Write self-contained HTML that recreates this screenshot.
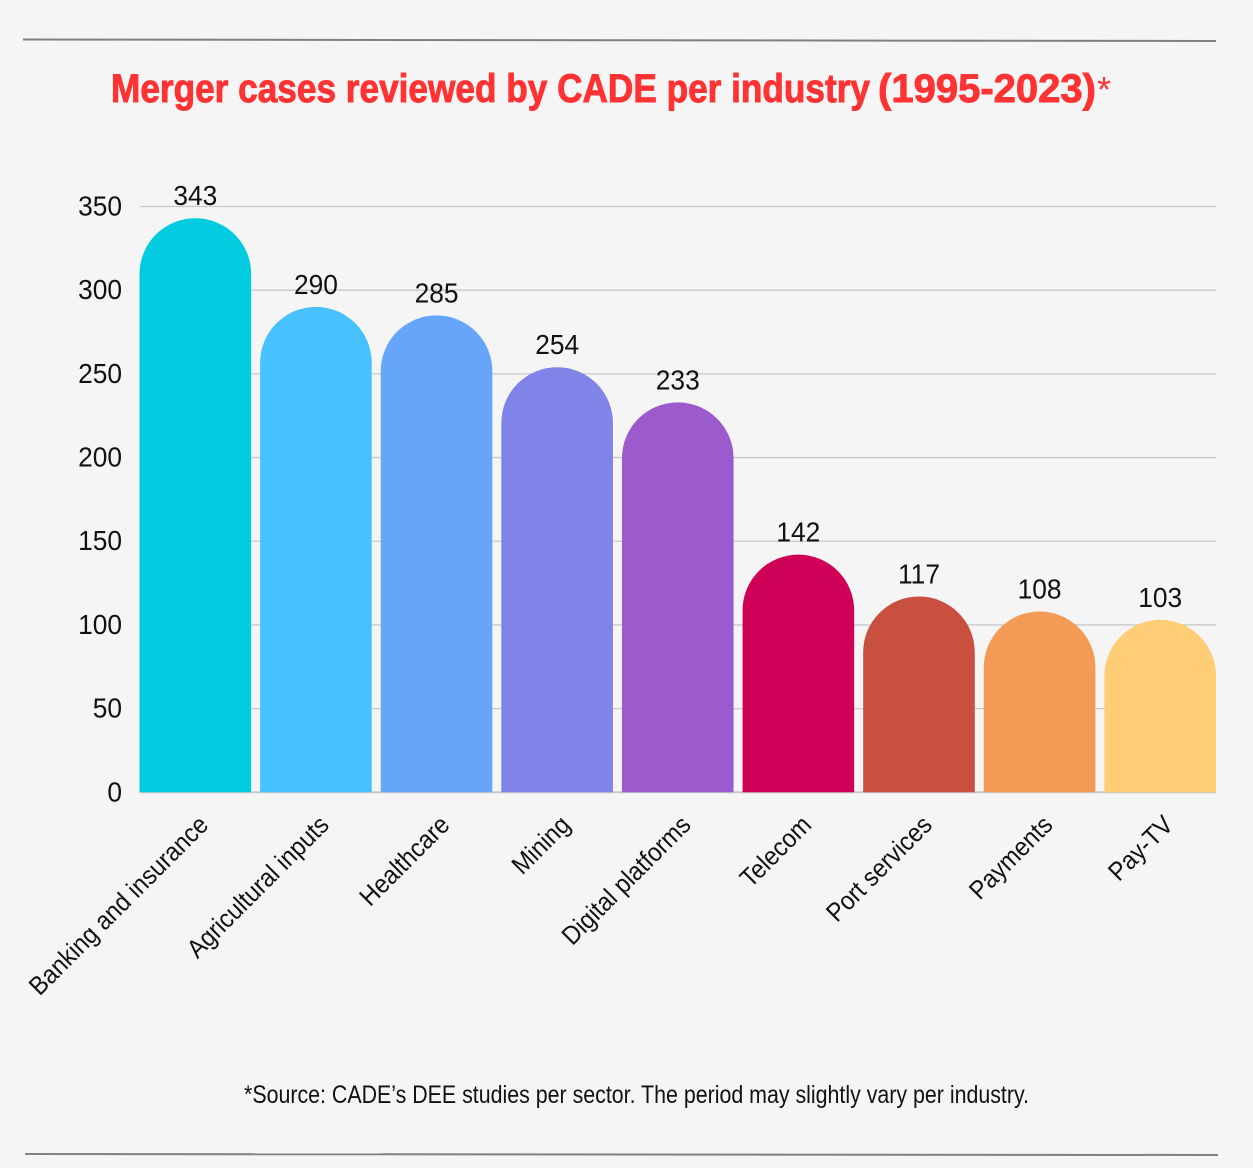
<!DOCTYPE html>
<html lang="en">
<head>
<meta charset="utf-8">
<title>Merger cases reviewed by CADE per industry (1995-2023)</title>
<style>
html,body{margin:0;padding:0;background:#f5f5f5;width:1253px;height:1168px;overflow:hidden}
svg{display:block}
text{font-family:"Liberation Sans",Arial,sans-serif;fill:#111}
.ttl{fill:#ff3333;stroke:#ff3333;stroke-width:0.9px}
</style>
</head>
<body>
<svg id="chart" width="1253" height="1168" viewBox="0 0 1253 1168" xmlns="http://www.w3.org/2000/svg">
  <rect x="0" y="0" width="1253" height="1168" fill="#f5f5f5"/>
  <line x1="23" y1="39.5" x2="1216" y2="41" stroke="#808080" stroke-width="2"/>
  <line x1="25" y1="1154" x2="1218" y2="1155" stroke="#808080" stroke-width="2"/>
  <text class="ttl" x="111" y="102" font-size="40" font-weight="700" textLength="759" lengthAdjust="spacingAndGlyphs">Merger cases reviewed by CADE per industry</text>
  <text class="ttl" x="878" y="102" font-size="40" font-weight="700" textLength="218" lengthAdjust="spacingAndGlyphs">(1995-2023)</text>
  <text x="1097" y="102" font-size="36" style="fill:#ff3333" textLength="14" lengthAdjust="spacingAndGlyphs">*</text>
  <g id="grid"></g>
  <g id="yticks"></g>
  <g id="bars"></g>
  <g id="values"></g>
  <g id="xlabels"></g>
  <text x="244" y="1103" font-size="25" textLength="785" lengthAdjust="spacingAndGlyphs">*Source: CADE’s DEE studies per sector. The period may slightly vary per industry.</text>
</svg>
<script>
const categories = ["Banking and insurance", "Agricultural inputs", "Healthcare", "Mining", "Digital platforms", "Telecom", "Port services", "Payments", "Pay-TV"];
const caseCounts = [343, 290, 285, 254, 233, 142, 117, 108, 103];
const barColors = ["#00cbdf", "#47c1ff", "#66a6fa", "#8083e8", "#9b5bcd", "#cf0058", "#c9503e", "#f29a56", "#ffcd75"];
const yTickValues = [0, 50, 100, 150, 200, 250, 300, 350];

const NS = "http://www.w3.org/2000/svg";
const plotLeft = 139.5, plotRight = 1216, plotBottom = 792.3, plotTop = 206.5, yMax = 350;
const slot = (plotRight - plotLeft + 9) / categories.length;
const barWidth = slot - 9;
function xScale(i) { return plotLeft + i * slot; }
function yScale(v) { return plotBottom - (v / yMax) * (plotBottom - plotTop); }
function make(tag, attrs, parent, txt) {
  const el = document.createElementNS(NS, tag);
  for (const k in attrs) el.setAttribute(k, attrs[k]);
  if (txt !== undefined) el.textContent = txt;
  parent.appendChild(el);
  return el;
}
const gridG = document.getElementById("grid");
const tickG = document.getElementById("yticks");
const barG = document.getElementById("bars");
const valG = document.getElementById("values");
const labG = document.getElementById("xlabels");

yTickValues.forEach(function (t) {
  const y = yScale(t);
  const line = make("line", {x1: plotLeft, x2: plotRight, y1: y, y2: y, stroke: "#c9c9c9", "stroke-width": t === 0 ? 2 : 1.3}, gridG);
  
  
  const lab = make("text", {"text-anchor": "end", "font-size": 28, transform: "translate(122," + (y + 9) + ") scale(0.94,1)"}, tickG, String(t));
  
  
});

caseCounts.forEach(function (v, i) {
  const x = xScale(i), y = yScale(v), r = barWidth / 2, cx = x + r;
  const bar = make("path", {
    d: "M" + x + " " + plotBottom + "V" + (y + r) + "A" + r + " " + r + " 0 0 1 " + (x + barWidth) + " " + (y + r) + "V" + plotBottom + "Z",
    fill: barColors[i]
  }, barG);
  
  
  const val = make("text", {"text-anchor": "middle", "font-size": 28, transform: "translate(" + cx + "," + (y - 13) + ") scale(0.94,1)"}, valG, String(v));
  
  
  const lab = make("text", {"text-anchor": "end", "font-size": 26, transform: "translate(" + (cx + 14.5) + ",826.5) rotate(-45) scale(0.91,1)"}, labG, categories[i]);
  
  
});
</script>
</body>
</html>
